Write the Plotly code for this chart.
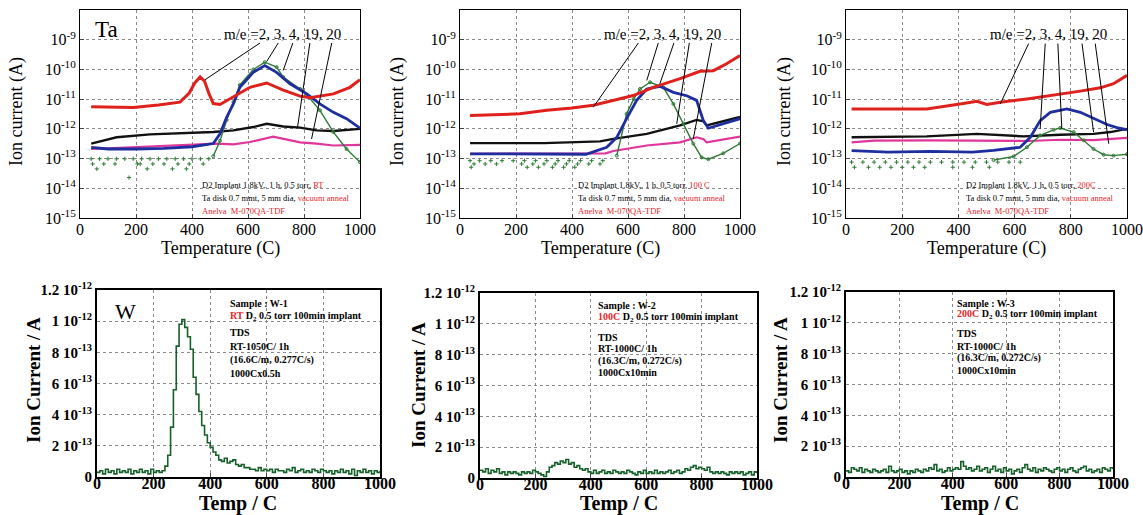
import plotly.graph_objects as go

FONT = "Liberation Serif"
RED = "#e0201c"
BLUE = "#1f2e9e"
GREEN = "#2f7a36"
BLACK = "#111111"
MAGENTA = "#e0359b"
DKGREEN = "#16602a"
TXTRED = "#e8262a"

# ---------------- Ta, RT ----------------
t_red1 = [40, 100, 190, 280, 357, 390, 410, 429, 445, 460, 476, 500, 548, 607, 667, 726, 786, 821, 905, 964, 1000]
red1 = [5.6e-12, 5.4e-12, 5.2e-12, 6.3e-12, 7.9e-12, 1.6e-11, 3.5e-11, 5.6e-11, 4.0e-11, 1.6e-11, 7.1e-12, 6.6e-12,
        1.17e-11, 2.5e-11, 3.5e-11, 2.0e-11, 1.26e-11, 1.12e-11, 1.5e-11, 2.5e-11, 4.5e-11]
t_blue1 = [40, 100, 200, 300, 400, 476, 500, 524, 548, 571, 619, 660, 702, 750, 810, 857, 905, 952, 1000]
blue1 = [2.4e-13, 2.1e-13, 2.1e-13, 2.2e-13, 2.5e-13, 3.2e-13, 6.8e-13, 2.5e-12, 7.0e-12, 2.5e-11, 8.0e-11, 1.35e-10,
         8.0e-11, 3.3e-11, 1.5e-11, 6.9e-12, 3.6e-12, 2.2e-12, 1.05e-12]
t_green1 = [476, 500, 524, 548, 571, 619, 660, 702, 726, 786, 810, 857, 905, 952, 1000]
green1 = [1.2e-13, 4.0e-13, 2.0e-12, 8.0e-12, 3.0e-11, 1.0e-10, 1.75e-10, 1.2e-10, 5.5e-11, 2.2e-11, 1.4e-11, 4.2e-12,
          7.8e-13, 2.1e-13, 7.6e-14]
t_black1 = [40, 131, 250, 369, 476, 548, 619, 667, 726, 786, 845, 905, 1000]
black1 = [3.2e-13, 5.2e-13, 6.5e-13, 7.1e-13, 7.8e-13, 8.9e-13, 1.15e-12, 1.48e-12, 1.2e-12, 1.1e-12, 8.9e-13, 8.5e-13, 1.0e-12]
t_mag1 = [40, 190, 369, 488, 548, 607, 690, 750, 786, 845, 905, 1000]
mag1 = [2.1e-13, 2.4e-13, 2.75e-13, 3.2e-13, 3.0e-13, 3.6e-13, 5.5e-13, 4.0e-13, 3.5e-13, 3.2e-13, 2.75e-13, 2.9e-13]
t_gnoise1 = [40, 70, 100, 130, 160, 190, 220, 250, 280, 310, 340, 370, 400, 430, 460,
             45, 85, 125, 205, 215, 260, 300, 350, 390, 440, 60, 175, 240, 330, 380]
gnoise1 = [9.8e-14, 9.8e-14, 9.8e-14, 9.8e-14, 9.8e-14, 9.8e-14, 9.8e-14, 9.8e-14, 9.8e-14, 9.8e-14, 9.8e-14, 9.8e-14,
           9.8e-14, 9.8e-14, 9.8e-14, 6.6e-14, 6.6e-14, 6.6e-14, 6.6e-14, 6.6e-14, 6.6e-14, 6.6e-14, 6.6e-14, 6.6e-14,
           6.6e-14, 4.5e-14, 2.3e-14, 4.5e-14, 4.5e-14, 4.5e-14]

# ---------------- Ta, 100 C ----------------
t_red2 = [36, 214, 310, 400, 476, 548, 619, 690, 786, 857, 905, 952, 1000]
red2 = [2.8e-12, 3.2e-12, 4.2e-12, 5.0e-12, 6.2e-12, 9.1e-12, 1.32e-11, 2.5e-11, 4.9e-11, 8.7e-11, 9.1e-11, 1.55e-10, 2.95e-10]
t_blue2 = [36, 150, 300, 450, 524, 560, 595, 631, 667, 714, 762, 810, 845, 869, 887, 940, 1000]
blue2 = [1.45e-13, 1.45e-13, 1.4e-13, 1.4e-13, 2.4e-13, 5.2e-13, 2.2e-12, 9.1e-12, 2.2e-11, 2.7e-11, 1.7e-11, 1.3e-11,
         9.1e-12, 1.9e-12, 1.05e-12, 1.5e-12, 2.2e-12]
t_green2 = [560, 595, 620, 643, 679, 726, 762, 798, 833, 863, 887, 940, 1000]
green2 = [1.26e-13, 3.2e-12, 1.0e-11, 2.2e-11, 3.7e-11, 2.5e-11, 6.9e-12, 1.5e-12, 3.2e-13, 1.1e-13, 9.5e-14, 1.5e-13, 3.2e-13]
t_black2 = [36, 300, 500, 548, 667, 786, 845, 870, 881, 905, 1000]
black2 = [3.3e-13, 3.3e-13, 3.8e-13, 4.6e-13, 6.8e-13, 1.3e-12, 2.0e-12, 1.8e-12, 1.3e-12, 1.5e-12, 2.5e-12]
t_mag2 = [36, 300, 520, 548, 667, 786, 845, 870, 881, 1000]
mag2 = [1.45e-13, 1.45e-13, 1.5e-13, 1.8e-13, 2.75e-13, 3.5e-13, 5.2e-13, 4.5e-13, 3.5e-13, 5.5e-13]
t_gnoise2 = [36, 70, 110, 150, 190, 230, 270, 310, 350, 390, 430, 470, 510,
             50, 90, 130, 220, 260, 300, 340, 380, 420, 460, 500, 40, 240, 280, 330, 370, 410]
gnoise2 = [8.5e-14, 8.5e-14, 8.5e-14, 8.5e-14, 8.5e-14, 8.5e-14, 8.5e-14, 8.5e-14, 8.5e-14, 8.5e-14, 8.5e-14, 8.5e-14,
           8.5e-14, 6.6e-14, 6.6e-14, 6.6e-14, 6.6e-14, 6.6e-14, 6.6e-14, 6.6e-14, 6.6e-14, 6.6e-14, 6.6e-14, 6.6e-14,
           5.1e-14, 5.1e-14, 5.1e-14, 5.1e-14, 5.1e-14, 5.1e-14]

# ---------------- Ta, 200 C ----------------
t_red3 = [20, 287, 406, 466, 501, 549, 644, 762, 834, 905, 952, 1000]
red3 = [4.7e-12, 4.7e-12, 6.9e-12, 8.5e-12, 6.6e-12, 7.9e-12, 1.02e-11, 1.45e-11, 1.86e-11, 2.4e-11, 3.3e-11, 6.3e-11]
t_blue3 = [20, 150, 300, 450, 525, 620, 656, 691, 727, 786, 834, 881, 929, 964, 1000]
blue3 = [1.86e-13, 1.66e-13, 1.74e-13, 1.66e-13, 1.9e-13, 2.4e-13, 5.2e-13, 1.9e-12, 3.6e-12, 4.7e-12, 3.6e-12, 2.3e-12,
         1.4e-12, 1.1e-12, 9.3e-13]
t_green3 = [525, 596, 644, 691, 739, 762, 810, 846, 881, 917, 952, 1000]
green3 = [8.9e-14, 1.17e-13, 2.4e-13, 6.0e-13, 9.3e-13, 1.07e-12, 7.8e-13, 4.1e-13, 2.1e-13, 1.35e-13, 1.26e-13, 1.4e-13]
t_black3 = [20, 287, 466, 632, 762, 881, 941, 1000]
black3 = [5.2e-13, 5.6e-13, 6.8e-13, 5.6e-13, 6.3e-13, 6.8e-13, 7.8e-13, 1.0e-12]
t_mag3 = [20, 100, 287, 400, 525, 650, 762, 880, 1000]
mag3 = [3.5e-13, 4.0e-13, 4.1e-13, 4.0e-13, 4.1e-13, 3.9e-13, 4.3e-13, 4.2e-13, 5.0e-13]
t_gnoise3 = [20, 60, 100, 140, 180, 220, 260, 300, 340, 380, 420, 460, 500, 540, 580, 620,
             30, 80, 120, 160, 200, 240, 280, 380, 450, 510]
gnoise3 = [7.6e-14, 7.6e-14, 7.6e-14, 7.6e-14, 7.6e-14, 7.6e-14, 7.6e-14, 7.6e-14, 7.6e-14, 7.6e-14, 7.6e-14, 7.6e-14,
           7.6e-14, 7.6e-14, 7.6e-14, 7.6e-14, 5.1e-14, 5.1e-14, 5.1e-14, 5.1e-14, 5.1e-14, 5.1e-14, 5.1e-14, 5.1e-14,
           5.1e-14, 5.1e-14]

# ---------------- W samples (units of 1e-14 A), T = 0..1000 step 10 ----------------
t_w = list(range(0, 1001, 10))
w1 = [3, 4, 2, 5, 3, 4, 2, 5, 3, 4, 3, 5, 2, 4, 3, 5, 3, 4, 2, 5, 3, 4, 3, 4, 7, 14, 32, 56, 84, 98, 101, 96, 90, 82, 64,
      53, 42, 33, 27, 22, 19, 16, 14, 11, 10, 12, 9, 10, 11, 8, 7, 8, 6, 6, 5, 5, 4, 6, 4, 5, 4, 5, 3, 5, 4, 4, 3, 5, 4,
      6, 3, 4, 5, 3, 4, 3, 5, 4, 3, 5, 4, 3, 4, 2, 4, 3, 5, 3, 4, 2, 5, 1, 4, 3, 5, 3, 4, 2, 4, 3, 4]
w2 = [5, 4, 6, 3, 5, 4, 6, 3, 4, 2, 4, 3, 4, 3, 2, 4, 3, 4, 3, 5, 4, 3, 2, 1, 4, 7, 8, 10, 9, 11, 10, 12, 9, 10, 7, 8,
      6, 5, 6, 4, 3, 5, 3, 4, 5, 3, 4, 3, 5, 4, 3, 4, 3, 5, 4, 3, 2, 4, 3, 5, 3, 4, 3, 5, 3, 4, 3, 4, 5, 3, 4, 5, 3, 4,
      6, 5, 7, 8, 6, 7, 6, 5, 7, 4, 3, 4, 3, 4, 3, 2, 4, 3, 4, 3, 4, 2, 3, 4, 2, 4, 3]
w3 = [4, 3, 6, 5, 4, 6, 3, 5, 4, 3, 5, 4, 3, 4, 5, 3, 7, 4, 3, 4, 5, 3, 4, 2, 4, 3, 5, 4, 3, 5, 4, 6, 5, 8, 4, 5, 3,
      4, 6, 4, 5, 6, 5, 10, 7, 5, 6, 4, 5, 7, 4, 5, 6, 3, 5, 7, 4, 5, 3, 6, 4, 5, 2, 4, 5, 3, 6, 8, 5, 4, 6, 3, 5, 4,
      6, 5, 4, 3, 5, 6, 4, 5, 3, 5, 6, 4, 3, 5, 6, 7, 4, 5, 3, 4, 5, 3, 6, 5, 4, 6, 5]

top_ticks = [1e-15, 1e-14, 1e-13, 1e-12, 1e-11, 1e-10, 1e-9]
top_ticktext = ["10<sup>-15</sup>", "10<sup>-14</sup>", "10<sup>-13</sup>", "10<sup>-12</sup>",
                "10<sup>-11</sup>", "10<sup>-10</sup>", "10<sup>-9</sup>"]
x_ticks = [0, 200, 400, 600, 800, 1000]
bot_ticks = [0, 2e-13, 4e-13, 6e-13, 8e-13, 1e-12, 1.2e-12]
bot_ticktext = ["0", "2 10<sup>-13</sup>", "4 10<sup>-13</sup>", "6 10<sup>-13</sup>", "8 10<sup>-13</sup>",
                "1 10<sup>-12</sup>", "1.2 10<sup>-12</sup>"]

W, H = 1143, 515
LOGMIN, LOGMAX = -15, -8.0


def px(xl, xr):
    return [xl / W, xr / W]


def py(yt, yb):
    return [1 - yb / H, 1 - yt / H]


domains = {
    1: (px(80, 360), py(10, 218)),
    2: (px(460, 740), py(10, 218)),
    3: (px(846, 1127), py(10, 218)),
    4: (px(97, 380), py(290, 477)),
    5: (px(480, 757), py(293, 478)),
    6: (px(846, 1113), py(292, 477)),
}

fig = go.Figure()


def ax_names(i):
    return ("x" if i == 1 else f"x{i}"), ("y" if i == 1 else f"y{i}")


def add(i, x, y, color, width, mode="lines", msize=3, shape="linear", symbol="circle-open"):
    xa, ya = ax_names(i)
    fig.add_trace(go.Scatter(x=x, y=y, mode=mode, xaxis=xa, yaxis=ya, showlegend=False,
                             line=dict(color=color, width=width, shape=shape),
                             marker=dict(color=color, size=msize, symbol=symbol,
                                         line=dict(color=color, width=1))))


top_sets = [
    (1, t_red1, red1, t_blue1, blue1, t_green1, green1, t_black1, black1, t_mag1, mag1, t_gnoise1, gnoise1),
    (2, t_red2, red2, t_blue2, blue2, t_green2, green2, t_black2, black2, t_mag2, mag2, t_gnoise2, gnoise2),
    (3, t_red3, red3, t_blue3, blue3, t_green3, green3, t_black3, black3, t_mag3, mag3, t_gnoise3, gnoise3),
]
for (i, tr, r, tb, b, tg, g, tk, k, tm, m, tn, n) in top_sets:
    add(i, tn, n, GREEN, 1, mode="markers", msize=3, symbol="cross-thin")
    add(i, tk, k, BLACK, 2.4)
    add(i, tm, m, MAGENTA, 2.2)
    add(i, tg, g, GREEN, 1.4, mode="lines+markers", msize=3)
    add(i, tb, b, BLUE, 2.8)
    add(i, tr, r, RED, 3)

for i, w in zip([4, 5, 6], [w1, w2, w3]):
    add(i, t_w, [v * 1e-14 for v in w], DKGREEN, 1.6, shape="hv")

layout = dict(width=W, height=H, margin=dict(l=0, r=0, t=0, b=0, autoexpand=False), paper_bgcolor="white",
              plot_bgcolor="white", showlegend=False, font=dict(family=FONT, color="black"))

for i in range(1, 7):
    xa, ya = ax_names(i)
    xk = "xaxis" if i == 1 else f"xaxis{i}"
    yk = "yaxis" if i == 1 else f"yaxis{i}"
    dx, dy = domains[i]
    top = i <= 3
    lw = 1 if top else 2
    layout[xk] = dict(domain=dx, anchor=ya, range=[0, 1000], tickvals=x_ticks, showgrid=True, automargin=False,
                      gridcolor="#8a8a8a", griddash="dot", gridwidth=1, showline=True, mirror=True,
                      linecolor="black", linewidth=lw, ticks="inside", ticklen=4, zeroline=False,
                      ticklabelstandoff=-3 if top else -9,
                      tickfont=dict(family=FONT, size=16, color="black",
                                    weight="normal" if top else "bold"))
    if top:
        layout[yk] = dict(domain=dy, anchor=xa, type="log", range=[LOGMIN, LOGMAX], tickvals=top_ticks,
                          ticktext=top_ticktext, showgrid=True, gridcolor="#8a8a8a", griddash="dot",
                          automargin=False, showline=True, mirror=True, linecolor="black", linewidth=1,
                          ticks="inside", ticklen=4, zeroline=False,
                          tickfont=dict(family=FONT, size=16, color="black"))
    else:
        layout[yk] = dict(domain=dy, anchor=xa, range=[0, 1.2e-12], tickvals=bot_ticks, automargin=False,
                          ticktext=bot_ticktext, showgrid=True, gridcolor="#8a8a8a", griddash="dot",
                          showline=True, mirror=True, linecolor="black", linewidth=2, ticks="",
                          zeroline=False, tickfont=dict(family=FONT, size=15, color="black", weight="bold"))

fig.update_layout(**layout)

ann = []
shapes = []


def txt(text, x, y, xref="paper", yref="paper", size=12, xanchor="center", yanchor="middle",
        angle=0, bold=False, color="black"):
    ann.append(dict(text=text, x=x, y=y, xref=xref, yref=yref, showarrow=False, xanchor=xanchor,
                    yanchor=yanchor, textangle=angle,
                    font=dict(family=FONT, size=size, color=color, weight="bold" if bold else "normal")))


# axis titles
for xc in [220, 600, 987]:
    txt("Temperature (C)", xc / W, 1 - 248 / H, size=18)
for xc in [17, 398, 785]:
    txt("Ion current (A)", xc / W, 1 - 112 / H, size=18, angle=-90)
for xc in [238, 619, 980]:
    txt("Temp / C", xc / W, 1 - 503 / H, size=20, bold=True)
for xc, yc in [(33, 380), (418, 385), (780, 380)]:
    txt("Ion Current / A", xc / W, 1 - yc / H, size=19, bold=True, angle=-90)

# panel labels
txt("Ta", 93 / W, 1 - 30 / H, size=23, xanchor="left")
txt("W", 113 / W, 1 - 311 / H, size=22, xanchor="left")

# m/e labels and leader lines (T, log10 current) pairs: label end -> curve end
leaders = {
    1: [(643, -9.11, 446, -10.35), (708, -9.11, 667, -9.73), (760, -9.11, 726, -10.03),
        (821, -9.11, 777, -11.94), (899, -9.11, 827, -12.34)],
    2: [(637, -9.11, 476, -11.27), (708, -9.11, 667, -10.37), (764, -9.11, 714, -10.48),
        (819, -9.11, 774, -11.83), (899, -9.11, 833, -12.34)],
    3: [(650, -9.13, 549, -11.16), (709, -9.13, 691, -12.0), (754, -9.13, 768, -12.0),
        (840, -9.13, 881, -12.11), (887, -9.13, 935, -12.5)],
}


def ld(v):
    return (v - LOGMIN) / (LOGMAX - LOGMIN)


for i, lst in leaders.items():
    xa, ya = ax_names(i)
    txt("m/e =2, 3, 4, 19, 20", 0.722, ld(-8.8), xref=f"{xa} domain", yref=f"{ya} domain", size=15)
    for (x0, y0, x1, y1) in lst:
        shapes.append(dict(type="line", xref=f"{xa} domain", yref=f"{ya} domain",
                           x0=x0 / 1000, y0=ld(y0), x1=x1 / 1000, y1=ld(y1),
                           line=dict(color="black", width=1)))

# Ta info boxes
conds = ["RT", "100 C", "200C"]
lefts = [0.429, 0.414, 0.42]
for i, c, xl in zip([1, 2, 3], conds, lefts):
    xa, ya = ax_names(i)
    lines = [f"D2 Implant 1.8kV,. 1 h, 0.5 torr, <span style='color:{TXTRED}'>{c}</span>",
             f"Ta disk 0.7 mmt, 5 mm dia, <span style='color:{TXTRED}'>vacuum anneal</span>",
             f"<span style='color:{TXTRED}'>Anelva  M-070QA-TDF</span>"]
    for ln, yv in zip(lines, [0.16, 0.097, 0.032]):
        txt(ln, xl, yv, xref=f"{xa} domain", yref=f"{ya} domain", size=8.5, xanchor="left")

# W info boxes
w_info = [
    (4, 0.463, [0.930, 0.856, 0.775, 0.70, 0.626, 0.556], "W-1", "RT", "RT-1050C/ 1h", "(16.6C/m, 0.277C/s)", "1000Cx0.5h"),
    (5, 0.419, [0.935, 0.870, 0.762, 0.70, 0.632, 0.568], "W-2", "100C", "RT-1000C/ 1h", "(16.3C/m, 0.272C/s)", "1000Cx10min"),
    (6, 0.408, [0.940, 0.876, 0.773, 0.708, 0.643, 0.573], "W-3", "200C", "RT-1000C/ 1h", "(16.3C/m, 0.272C/s)", "1000Cx10min"),
]
for (i, xl, ys, samp, cond, l4, l5, l6) in w_info:
    xa, ya = ax_names(i)
    lines = [f"Sample : {samp}",
             f"<span style='color:{TXTRED}'>{cond}</span> D<sub>2</sub> 0.5 torr 100min implant",
             "TDS", l4, l5, l6]
    for ln, yv in zip(lines, ys):
        txt(ln, xl, yv, xref=f"{xa} domain", yref=f"{ya} domain", size=10, xanchor="left", bold=True)

fig.update_layout(annotations=ann, shapes=shapes)
fig.write_html("out.html", config={"displayModeBar": False},
               post_script="document.body.style.margin='0px';document.body.style.overflow='hidden';")
